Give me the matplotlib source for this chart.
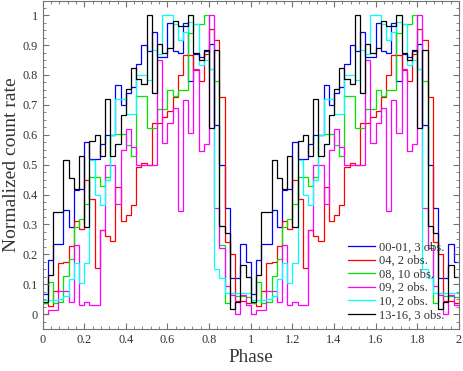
import numpy as np
import matplotlib.pyplot as plt
from matplotlib.ticker import MultipleLocator

# one cycle, 40 phase bins of width 0.025 (shown twice)
labels = ["00-01, 3 obs.", "04, 2 obs.", "08, 10 obs.", "09, 2 obs.", "10, 2 obs.", "13-16, 3 obs."]
colors = ["#0000ff", "#ff0000", "#00e600", "#ff00ff", "#00ffff", "#000000"]

blue = [0.067, 0.18, 0.236, 0.236, 0.348, 0.29, 0.415, 0.42, 0.576, 0.52,
        0.52, 0.57, 0.60, 0.60, 0.766, 0.70, 0.74, 0.76, 0.838, 0.90,
        0.88, 0.944, 0.86, 0.86, 0.975, 0.88, 0.875, 0.975, 0.78, 0.87,
        0.86, 0.88, 0.905, 0.632, 0.50, 0.356, 0.12, 0.12, 0.236, 0.175]
red = [0.036, 0.027, 0.077, 0.172, 0.175, 0.227, 0.311, 0.286, 0.45, 0.384,
       0.155, 0.28, 0.26, 0.245, 0.426, 0.31, 0.33, 0.365, 0.493, 0.505,
       0.50, 0.64, 0.64, 0.66, 0.68, 0.727, 0.80, 0.866, 0.866, 0.815,
       0.78, 0.87, 0.955, 0.916, 0.727, 0.24, 0.20, 0.045, 0.045, 0.036]
green = [0.036, 0.106, 0.036, 0.04, 0.128, 0.186, 0.29, 0.317, 0.367, 0.46,
         0.46, 0.43, 0.46, 0.60, 0.604, 0.604, 0.565, 0.53, 0.73, 0.73,
         0.623, 0.623, 0.685, 0.685, 0.75, 0.73, 0.75, 0.75, 0.942, 0.972,
         0.972, 1.0, 0.82, 0.78, 0.231, 0.036, 0.07, 0.06, 0.06, 0.058]
magenta = [0.0, 0.015, 0.015, 0.077, 0.077, 0.04, 0.23, 0.03, 0.04, 0.03,
           0.03, 0.28, 0.50, 0.50, 0.37, 0.55, 0.62, 0.56, 0.50, 0.50,
           0.50, 0.50, 0.85, 0.574, 0.64, 0.69, 0.344, 0.716, 0.607, 0.82,
           0.546, 0.568, 1.0, 0.356, 0.22, 0.094, 0.064, 0.002, 0.064, 0.03]
cyan = [0.047, 0.047, 0.047, 0.05, 0.06, 0.117, 0.17, 0.105, 0.17, 0.515,
        0.40, 0.365, 0.45, 0.60, 0.72, 0.72, 0.67, 0.67, 0.80, 0.80,
        0.783, 0.883, 0.87, 1.0, 1.0, 0.97, 0.916, 0.944, 0.977, 0.97,
        0.832, 0.85, 0.82, 0.15, 0.12, 0.072, 0.072, 0.072, 0.07, 0.07]
black = [0.04, 0.13, 0.34, 0.34, 0.515, 0.456, 0.417, 0.53, 0.292, 0.58,
         0.60, 0.53, 0.72, 0.53, 0.57, 0.666, 0.752, 0.824, 0.788, 0.77,
         1.0, 0.741, 0.905, 0.872, 0.889, 0.981, 0.964, 0.964, 1.0, 0.875,
         0.849, 0.885, 0.623, 0.885, 0.294, 0.27, 0.016, 0.04, 0.164, 0.125]
series = [blue, red, green, magenta, cyan, black]

nbins = 40
edges = np.linspace(0, 2, 2 * nbins + 1)

plt.rcParams['font.family'] = ['Liberation Serif', 'DejaVu Serif']

fig = plt.figure(figsize=(4.63, 3.71), dpi=100)
ax = fig.add_axes([0.092, 0.113, 0.899, 0.884])

for vals, c, lab in zip(series, colors, labels):
    v = np.tile(np.array(vals), 2)
    ax.stairs(v, edges, baseline=None, color=c, lw=0.9, label=lab)

ax.set_xlim(0, 2)
ax.set_ylim(-0.05, 1.047)
ax.xaxis.set_minor_locator(MultipleLocator(0.04))
ax.yaxis.set_minor_locator(MultipleLocator(0.025))
ax.set_xticks(np.arange(0, 2.01, 0.2))
ax.set_xticklabels(["0", "0.2", "0.4", "0.6", "0.8", "1", "1.2", "1.4", "1.6", "1.8", "2"])
ax.set_yticks(np.arange(0, 1.01, 0.1))
ax.set_yticklabels(["0", "0.1", "0.2", "0.3", "0.4", "0.5", "0.6", "0.7", "0.8", "0.9", "1"])
ax.tick_params(which='both', direction='in', top=True, right=True, color='0.45',
               labelsize=8.8, labelcolor='#333333')
ax.tick_params(which='major', length=4, width=0.8)
ax.tick_params(which='minor', length=2, width=0.6)
for s in ax.spines.values():
    s.set_color('0.45')
    s.set_linewidth(0.8)

ax.set_xlabel("Phase", fontsize=13.8, color='#333333', labelpad=2)
ax.set_ylabel("Normalized count rate", fontsize=14, color='#333333', labelpad=2)

leg = ax.legend(loc='lower right', bbox_to_anchor=(0.975, 0.012), frameon=False,
                fontsize=9, handlelength=2.2, handletextpad=0.3,
                labelspacing=0.13, borderaxespad=0.0, borderpad=0.3)
for t in leg.get_texts():
    t.set_color('#333333')

fig.savefig("out.png", dpi=100)
